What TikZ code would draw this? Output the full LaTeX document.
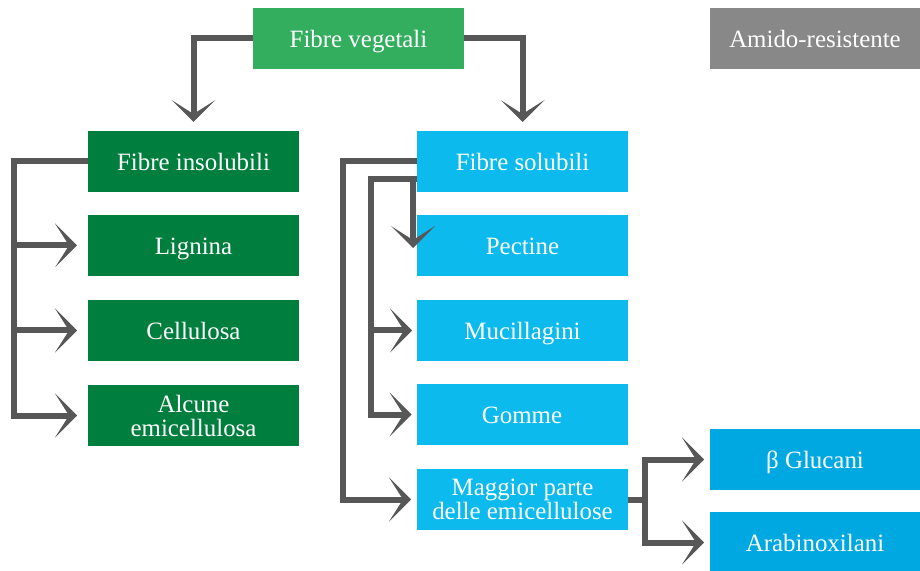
\documentclass[tikz,border=0pt]{standalone}
\usepackage{fontspec}
\setmainfont{Liberation Serif}
\usetikzlibrary{arrows.meta}
\definecolor{vgreen}{HTML}{33AE5F}
\definecolor{dgreen}{HTML}{007E3D}
\definecolor{lblue}{HTML}{0DBAEE}
\definecolor{mblue}{HTML}{00A8E2}
\definecolor{agray}{HTML}{888888}
\definecolor{lgray}{HTML}{575757}
\begin{document}
\begin{tikzpicture}[x=0.5pt,y=-0.5pt,
  box/.style={draw=none, inner sep=0pt, outer sep=0pt, minimum width=105.5pt,
    minimum height=30.5pt, text=white, align=center,
    font=\fontsize{12.45}{12}\selectfont},
  one/.style={box, text height=9pt, text depth=0pt},
  line/.style={draw=lgray, line width=3pt},
  conn/.style={line, -{Stealth[length=11pt,width=22pt,inset=7pt,line width=0pt]}}
]
\useasboundingbox (0,0) rectangle (920,571);
% nodes
\node[one, fill=vgreen] (fv) at (358.5,38.5) {Fibre vegetali};
\node[one, fill=agray, minimum width=105pt] (ar) at (815,38.5) {Amido-resistente};
\node[one, fill=dgreen] (fi) at (193.5,161.5) {Fibre insolubili};
\node[one, fill=dgreen] (lig) at (193.5,245.5) {Lignina};
\node[one, fill=dgreen] (cel) at (193.5,330.5) {Cellulosa};
\node[box, fill=dgreen] (alc) at (193.5,415.5) {Alcune\\emicellulosa};
\node[one, fill=lblue] (fs) at (522.5,161.5) {Fibre solubili};
\node[one, fill=lblue] (pec) at (522.5,245.5) {Pectine};
\node[one, fill=lblue] (muc) at (522.5,330.5) {Mucillagini};
\node[one, fill=lblue] (gom) at (522,414.5) {Gomme};
\node[box, fill=lblue] (mag) at (522.5,499.5) {Maggior parte\\delle emicellulose};
\node[one, fill=mblue, minimum width=105pt] (bg) at (815,459.5) {β Glucani};
\node[one, fill=mblue, minimum width=105pt] (arab) at (815,542.5) {Arabinoxilani};
% top connectors
\draw[conn, shorten >=4.5pt] (fv.west) -| (fi.north);
\draw[conn, shorten >=4.5pt] (fv.east) -| (fs.north);
% left bracket
\coordinate (lx) at (14,161.5);
\draw[conn, shorten >=5.5pt] (fi.west) -- (lx) |- (alc.west);
\draw[conn, shorten >=5.5pt] (lx |- lig.west) -- (lig.west);
\draw[conn, shorten >=5.5pt] (lx |- cel.west) -- (cel.west);
% right outer bracket
\coordinate (ro) at (343,161.5);
\draw[conn, shorten >=3pt] (fs.west) -- (ro) |- (mag.west);
% right inner bracket
\coordinate (ia) at (417,179);
\coordinate (ib) at (371,179);
\draw[conn, shorten >=2.5pt] (ia) -- (ib) |- (gom.west);
\draw[conn, shorten >=2.5pt] (ib |- muc.west) -- (muc.west);
\coordinate (pa) at (413,179);
\coordinate (pb) at (413,248);
\draw[conn] (pa) -- (pb);
% maggior parte split
\coordinate (mx) at (645,499.5);
\draw[line] (mag.east) -- (mx);
\draw[conn, shorten >=3pt] (mx) |- (bg.west);
\draw[conn, shorten >=3pt] (mx) |- (arab.west);
\end{tikzpicture}
\end{document}
